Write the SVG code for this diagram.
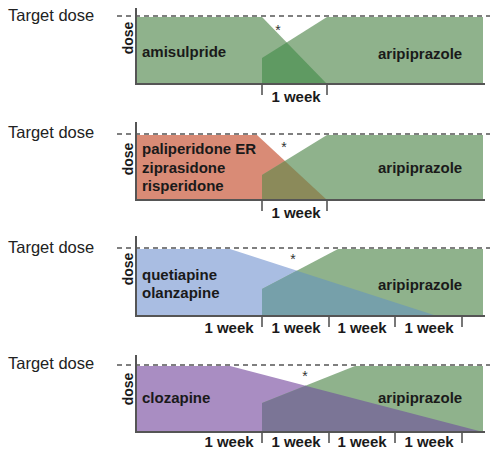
<svg xmlns="http://www.w3.org/2000/svg" width="490" height="450" viewBox="0 0 490 450">
<style>
.target{font-family:"Liberation Sans",Arial,sans-serif;font-size:16.5px;fill:#222}
.lbl{font-family:"Liberation Sans",Arial,sans-serif;font-size:15px;font-weight:bold;fill:#1a1a1a}
.wk{font-family:"Liberation Sans",Arial,sans-serif;font-size:15px;font-weight:bold;fill:#1a1a1a;text-anchor:middle}
.dose{font-family:"Liberation Sans",Arial,sans-serif;font-size:14px;font-weight:bold;fill:#1a1a1a;text-anchor:middle}
.ast{font-family:"Liberation Sans",Arial,sans-serif;font-size:14px;fill:#333;text-anchor:middle}
.dash{stroke:#555;stroke-width:1.6;stroke-dasharray:5 4;fill:none}
.axis{stroke:#555;stroke-width:2;fill:none}
.tick{stroke:#555;stroke-width:1.6;fill:none}
.green{fill:#8fb28c}
</style>
<g id="panel1">
<polygon fill="#8fb28c" points="137,17 262,17 327,84 137,84"/>
<polygon class="green" points="262,84 262,58 327,17 483,17 483,84"/>
<polygon fill="#5f9a62" points="262,84 262,58 286.7,42.4 327,84"/>
<text class="target" x="8" y="21">Target dose</text>
<text class="dose" transform="translate(133,38) rotate(-90)">dose</text>
<text class="lbl" x="142" y="57">amisulpride</text>
<text class="lbl" x="378" y="59">aripiprazole</text>
<text class="ast" x="278" y="35">*</text>
<text class="wk" x="296" y="102">1 week</text>
</g>
<g id="panel2">
<polygon fill="#d98b76" points="137,135 257,135 327,200 137,200"/>
<polygon class="green" points="262,200 262,175 327,135 483,135 483,200"/>
<polygon fill="#8b8a5a" points="262,200 262,175 284.9,160.9 327,200"/>
<text class="target" x="8" y="138">Target dose</text>
<text class="dose" transform="translate(133,159) rotate(-90)">dose</text>
<text class="lbl" x="142" y="154">paliperidone ER</text>
<text class="lbl" x="142" y="173">ziprasidone</text>
<text class="lbl" x="142" y="191">risperidone</text>
<text class="lbl" x="378" y="173">aripiprazole</text>
<text class="ast" x="284" y="152">*</text>
<text class="wk" x="296" y="218">1 week</text>
</g>
<g id="panel3">
<polygon fill="#a9bde2" points="137,249 230,249 437,316 137,316"/>
<polygon class="green" points="262,316 262,289 338,249 483,249 483,316"/>
<polygon fill="#76a0aa" points="262,316 262,289 296.9,270.7 437,316"/>
<text class="target" x="8" y="253">Target dose</text>
<text class="dose" transform="translate(133,269) rotate(-90)">dose</text>
<text class="lbl" x="142" y="280">quetiapine</text>
<text class="lbl" x="142" y="298">olanzapine</text>
<text class="lbl" x="378" y="290">aripiprazole</text>
<text class="ast" x="293" y="264">*</text>
<text class="wk" x="229" y="333">1 week</text>
<text class="wk" x="296" y="333">1 week</text>
<text class="wk" x="362" y="333">1 week</text>
<text class="wk" x="429" y="333">1 week</text>
</g>
<g id="panel4">
<polygon fill="#a98dc2" points="137,366 230,366 483,432 137,432"/>
<polygon class="green" points="262,432 262,403 355,366 483,366 483,432"/>
<polygon fill="#7b7596" points="262,432 262,403 305.4,385.7 483,432"/>
<text class="target" x="8" y="369">Target dose</text>
<text class="dose" transform="translate(133,389) rotate(-90)">dose</text>
<text class="lbl" x="142" y="403">clozapine</text>
<text class="lbl" x="378" y="403">aripiprazole</text>
<text class="ast" x="305" y="381">*</text>
<text class="wk" x="229" y="447">1 week</text>
<text class="wk" x="296" y="447">1 week</text>
<text class="wk" x="362" y="447">1 week</text>
<text class="wk" x="429" y="447">1 week</text>
</g>
<g id="connectors">
<line class="dash" x1="117" y1="16" x2="490" y2="16"/>
<line class="dash" x1="117" y1="134" x2="490" y2="134"/>
<line class="dash" x1="117" y1="248" x2="490" y2="248"/>
<line class="dash" x1="117" y1="365" x2="490" y2="365"/>
<polyline class="axis" points="136,8 136,84 485,84"/>
<polyline class="axis" points="136,122 136,200 485,200"/>
<polyline class="axis" points="136,236 136,316 485,316"/>
<polyline class="axis" points="136,355 136,432 485,432"/>
<line class="tick" x1="262" y1="84" x2="262" y2="95"/>
<line class="tick" x1="327" y1="84" x2="327" y2="95"/>
<line class="tick" x1="262" y1="200" x2="262" y2="211"/>
<line class="tick" x1="327" y1="200" x2="327" y2="211"/>
<line class="tick" x1="262" y1="316" x2="262" y2="327"/>
<line class="tick" x1="329" y1="316" x2="329" y2="327"/>
<line class="tick" x1="395" y1="316" x2="395" y2="327"/>
<line class="tick" x1="462" y1="316" x2="462" y2="327"/>
<line class="tick" x1="262" y1="432" x2="262" y2="443"/>
<line class="tick" x1="329" y1="432" x2="329" y2="443"/>
<line class="tick" x1="395" y1="432" x2="395" y2="443"/>
<line class="tick" x1="462" y1="432" x2="462" y2="443"/>
</g>
</svg>
